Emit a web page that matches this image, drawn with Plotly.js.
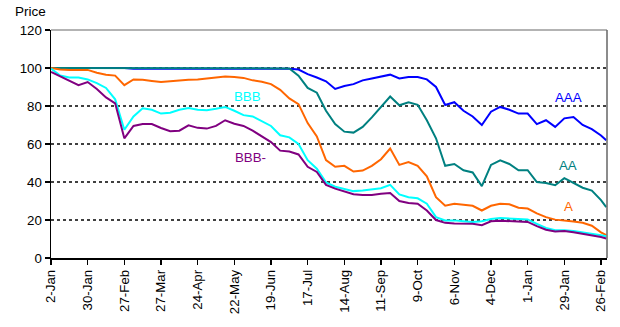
<!DOCTYPE html>
<html>
<head>
<meta charset="utf-8">
<script src="https://cdn.plot.ly/plotly-3.0.1.min.js"></script>
<style>html,body{margin:0;padding:0;background:#fff;}#chart{width:620px;height:327px;}</style>
</head>
<body>
<div id="chart"></div>
<script>
// Weekly observation dates
const dates = [
 '2007-01-02','2007-01-09','2007-01-16','2007-01-23','2007-01-30','2007-02-06','2007-02-13','2007-02-20','2007-02-27','2007-03-06',
 '2007-03-13','2007-03-20','2007-03-27','2007-04-03','2007-04-10','2007-04-17','2007-04-24','2007-05-01','2007-05-08','2007-05-15',
 '2007-05-22','2007-05-29','2007-06-05','2007-06-12','2007-06-19','2007-06-26','2007-07-03','2007-07-10','2007-07-17','2007-07-24',
 '2007-07-31','2007-08-07','2007-08-14','2007-08-21','2007-08-28','2007-09-04','2007-09-11','2007-09-18','2007-09-25','2007-10-02',
 '2007-10-09','2007-10-16','2007-10-23','2007-10-30','2007-11-06','2007-11-13','2007-11-20','2007-11-27','2007-12-04','2007-12-11',
 '2007-12-18','2007-12-25','2008-01-01','2008-01-08','2008-01-15','2008-01-22','2008-01-29','2008-02-05','2008-02-12','2008-02-19',
 '2008-02-26','2008-03-01'
];

const seriesNames = ['AAA','AA','A','BBB','BBB-'];
const seriesColors = ['#0000FF','#008080','#FF6600','#00FFFF','#800080'];

const AAA = [100,100,100,100,100,100,100,100,100,99.6,
 99.6,99.6,99.6,99.6,99.6,99.6,99.6,99.6,99.6,99.6,
 99.6,99.6,99.6,99.6,99.6,99.6,99.6,99.2,96.8,95,
 93,89,90.5,91.5,93.5,94.5,95.5,96.5,94.5,95.3,
 95.3,94,90,80.5,82,77.5,74.5,70,77,79.5,
 78,76,76,70.5,72.5,69,73.5,74.2,70,67.8,
 64.5,62];

const AA = [100,100,100,100,100,100,100,100,100,99.8,
 99.8,99.8,99.8,99.8,99.8,99.8,99.8,99.8,99.8,99.8,
 99.8,99.8,99.8,99.8,99.8,99.8,99.8,96,89.5,87,
 77.5,70.5,66.5,66,69,74,79.5,85,80.4,82,
 80.6,72.5,63,48.5,49.5,46.2,45,37.8,49,51.4,
 49.5,46.2,46.2,40,39.5,38.3,42,39.5,37,35.5,
 30.5,26.8];

const A = [100,99.2,99,99,99,97.5,96.5,96,91,94,
 93.8,93.2,92.6,93,93.5,93.8,94,94.5,95,95.5,
 95.2,94.8,93.5,92.8,91.5,88.5,84,81,71,64,
 51.5,48,48.5,45.5,46,48.5,52,57.6,49,50.5,
 48.5,43,32,27.5,28.6,28.2,27.5,25,27.5,28.6,
 28.3,26.5,26,23.5,21.5,20.2,19.8,19.2,18.5,17,
 13.5,12];

const BBB = [99.7,96,95,95,94,92,89.5,83.5,67.5,74.5,
 78.8,78,76,76.5,78,79,78,77.8,78.5,79.5,
 77.5,75.2,74.5,72,69.5,64.6,63.5,60,51.5,47,
 39.8,37.5,36.5,35.2,35.5,36.2,36.7,38.5,33.5,32,
 31.4,28.6,21.5,19.8,19.8,19.3,18.9,19.3,20.5,21,
 20.8,20.5,20.3,18,15.8,14.6,14.6,14.2,13.5,13,
 12,11.4];

const BBBminus = [97.9,95.5,93.2,91,92.6,89,84.5,81.4,63,69.5,
 70.5,70.5,68.4,66.7,67,69.8,68.5,68.1,69.5,72.5,
 70.7,69.5,67,64,61,56.5,56,54.5,48,45.3,
 38.5,36.5,35,33.6,33.2,33.2,33.8,34.2,30,29,
 28.6,25,20,18.5,18.1,18.1,18,17.3,19.3,19.6,
 19.5,19.3,19,16.8,14.9,13.9,14.2,13.5,12.7,12,
 11,10.3];

const seriesValues = [AAA, AA, A, BBB, BBBminus];

const tickDates = ['2007-01-02','2007-01-30','2007-02-27','2007-03-27','2007-04-24','2007-05-22','2007-06-19',
 '2007-07-17','2007-08-14','2007-09-11','2007-10-09','2007-11-06','2007-12-04','2008-01-01','2008-01-29','2008-02-26'];
const tickLabels = ['2-Jan','30-Jan','27-Feb','27-Mar','24-Apr','22-May','19-Jun','17-Jul','14-Aug','11-Sep',
 '9-Oct','6-Nov','4-Dec','1-Jan','29-Jan','26-Feb'];

const labelDates = ['2008-02-01','2008-02-01','2008-02-01','2007-06-01','2007-06-03'];
const labelValues = [84.6, 48.7, 27.2, 85.1, 52.8];

const FONT = 'Arial, "Liberation Sans", sans-serif';

const traces = seriesNames.map((n, i) => ({
  type: 'scatter', mode: 'lines', name: n,
  x: dates, y: seriesValues[i],
  line: {color: seriesColors[i], width: 2},
  hoverinfo: 'skip'
}));

const annotations = seriesNames.map((n, i) => ({
  x: labelDates[i], y: labelValues[i], xref: 'x', yref: 'y',
  text: n, showarrow: false, xanchor: 'center', yanchor: 'middle',
  font: {family: FONT, size: 13.3, color: seriesColors[i]}
}));
annotations.push({
  x: (13 - 51) / (607 - 51), y: (258 - 12) / (258 - 30), xref: 'paper', yref: 'paper',
  text: 'Price', showarrow: false,
  xanchor: 'left', yanchor: 'middle', font: {family: FONT, size: 13.5, color: '#000'}
});

const layout = {
  width: 620, height: 327,
  margin: {l: 51, r: 13, t: 30, b: 69, pad: 0},
  paper_bgcolor: '#fff', plot_bgcolor: '#fff',
  showlegend: false,
  font: {family: FONT, size: 13.3, color: '#000'},
  xaxis: {
    type: 'date',
    range: ['2007-01-02', '2008-03-01 14:00'],
    tickvals: tickDates, ticktext: tickLabels,
    tickangle: -90,
    ticks: 'outside', ticklen: 5, tickcolor: '#000', tickwidth: 1.5,
    showline: true, linecolor: '#000', linewidth: 1.5,
    showgrid: false, zeroline: false,
    tickfont: {family: FONT, size: 13.3, color: '#000'}
  },
  yaxis: {
    range: [0, 120],
    tickvals: [0,20,40,60,80,100,120],
    ticks: 'outside', ticklen: 5, tickcolor: '#000', tickwidth: 1.5,
    showline: true, linecolor: '#000', linewidth: 1.5,
    showgrid: true, gridcolor: '#404040', gridwidth: 1.5, griddash: 'dot',
    zeroline: false,
    tickfont: {family: FONT, size: 13.3, color: '#000'}
  },
  shapes: [
    {type: 'line', xref: 'paper', yref: 'paper', x0: 0, x1: 1, y0: 1, y1: 1,
     line: {color: '#9a9a9a', width: 1.5}, layer: 'above'},
    {type: 'line', xref: 'paper', yref: 'paper', x0: 1, x1: 1, y0: 0, y1: 1,
     line: {color: '#666666', width: 1.5}, layer: 'above'}
  ],
  annotations: annotations
};

Plotly.newPlot('chart', traces, layout, {staticPlot: true, displayModeBar: false});
</script>
</body>
</html>
